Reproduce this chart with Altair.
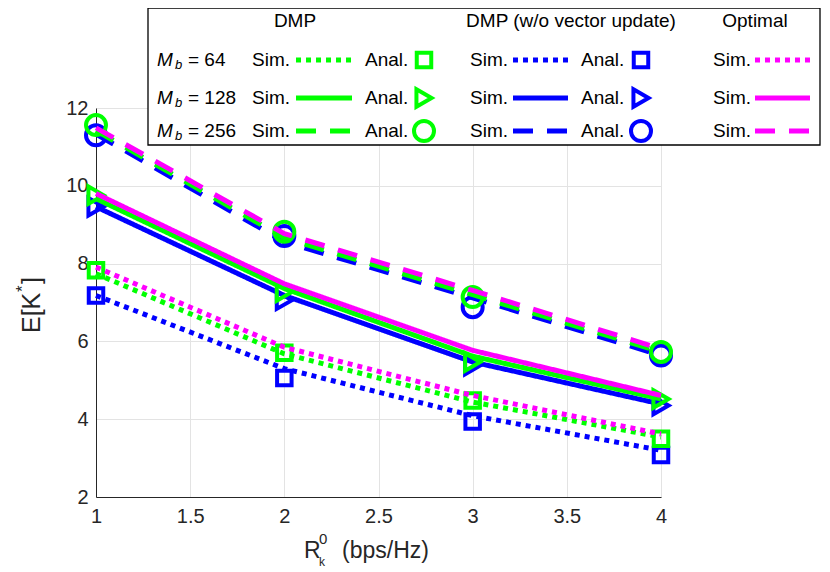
import altair as alt
import pandas as pd

# ---------------- data ----------------
x_vals = [1, 2, 3, 4]
mb_levels = ["64", "128", "256"]

dmp_sim_64 = [7.74, 5.68, 4.44, 3.54]
dmp_sim_128 = [9.67, 7.36, 5.62, 4.52]
dmp_sim_256 = [11.42, 8.66, 7.20, 5.73]
dmp_anal_64 = [7.83, 5.71, 4.48, 3.50]
dmp_anal_128 = [9.76, 7.27, 5.47, 4.52]
dmp_anal_256 = [11.56, 8.82, 7.14, 5.73]

wo_sim_64 = [7.18, 5.30, 4.09, 3.20]
wo_sim_128 = [9.46, 7.18, 5.47, 4.39]
wo_sim_256 = [11.33, 8.56, 7.12, 5.64]
wo_anal_64 = [7.18, 5.06, 3.94, 3.08]
wo_anal_128 = [9.46, 7.06, 5.38, 4.35]
wo_anal_256 = [11.30, 8.71, 6.88, 5.64]

opt_sim_64 = [7.91, 5.85, 4.61, 3.62]
opt_sim_128 = [9.80, 7.48, 5.77, 4.61]
opt_sim_256 = [11.49, 8.77, 7.31, 5.81]

x_ticks = [1, 1.5, 2, 2.5, 3, 3.5, 4]
y_ticks = [2, 4, 6, 8, 10, 12]

header_texts = ["DMP", "DMP (w/o vector update)", "Optimal"]
row_values = ["= 64", "= 128", "= 256"]

COL = {"wo": "#0000ff", "dmp": "#00ff00", "opt": "#ff00ff"}
FONT = "Liberation Sans"
TXT = "#262626"

sim_sets = {
    "wo": [wo_sim_64, wo_sim_128, wo_sim_256],
    "dmp": [dmp_sim_64, dmp_sim_128, dmp_sim_256],
    "opt": [opt_sim_64, opt_sim_128, opt_sim_256],
}
anal_sets = {
    "wo": [wo_anal_64, wo_anal_128, wo_anal_256],
    "dmp": [dmp_anal_64, dmp_anal_128, dmp_anal_256],
}

sim_rows, anal_rows = [], []
for m, series in sim_sets.items():
    for mb, ys in zip(mb_levels, series):
        for xv, yv in zip(x_vals, ys):
            sim_rows.append({"x": xv, "y": yv, "method": m, "Mb": mb})
for m, series in anal_sets.items():
    for mb, ys in zip(mb_levels, series):
        for xv, yv in zip(x_vals, ys):
            anal_rows.append({"x": xv, "y": yv, "method": m, "Mb": mb})
sim_df = pd.DataFrame(sim_rows)
anal_df = pd.DataFrame(anal_rows)

xs = alt.Scale(domain=[1, 4], nice=False, zero=False)
ys_ = alt.Scale(domain=[2, 12], nice=False, zero=False)
x_axis = alt.Axis(values=x_ticks, title=None, grid=True, ticks=False, labelPadding=9,
                  labelFontSize=20, labelFont=FONT, labelColor=TXT, domainColor=TXT,
                  gridColor="#e3e3e3", labelFlush=False, format="~g")
y_axis = alt.Axis(values=y_ticks, title=None, grid=True, ticks=False, labelPadding=8,
                  labelFontSize=20, labelFont=FONT, labelColor=TXT, domainColor=TXT,
                  gridColor="#e3e3e3", labelFlush=False)
X = alt.X("x:Q", scale=xs, axis=x_axis)
Y = alt.Y("y:Q", scale=ys_, axis=y_axis)

dash_scale = alt.Scale(domain=mb_levels, range=[[5, 5], [1, 0], [20, 14]])
shape_scale = alt.Scale(domain=mb_levels, range=["square", "triangle-right", "circle"])
size_scale = alt.Scale(domain=mb_levels, range=[210, 400, 240])


def line_layer(m):
    return alt.Chart(sim_df).transform_filter(alt.datum.method == m).mark_line(
        strokeWidth=5, strokeCap="butt", clip=False
    ).encode(
        x=X, y=Y, color=alt.value(COL[m]),
        strokeDash=alt.StrokeDash("Mb:N", scale=dash_scale, legend=None),
    )


def marker_layer(m):
    return alt.Chart(anal_df).transform_filter(alt.datum.method == m).mark_point(
        filled=False, strokeWidth=4, opacity=1, clip=False
    ).encode(
        x=X, y=Y, color=alt.value(COL[m]),
        shape=alt.Shape("Mb:N", scale=shape_scale, legend=None),
        size=alt.Size("Mb:O", scale=size_scale, legend=None),
    )


# ---------------- legend (plot-pixel coordinates) ----------------
row_y = [-48, -10, 23]
col_sim_x = {"dmp": 156, "wo": 374, "opt": 617}
col_line = {"dmp": (200, 256), "wo": (417, 472), "opt": (659, 714)}
col_anal_x = {"dmp": 269, "wo": 485}
col_mark_x = {"dmp": 328, "wo": 545}

leg_lines, leg_marks, leg_txt = [], [], []
for m in ["dmp", "wo", "opt"]:
    for mb, ry in zip(mb_levels, row_y):
        leg_lines.append({"x0": col_line[m][0], "x1": col_line[m][1], "y": ry, "c": COL[m], "Mb": mb})
        leg_txt.append({"px": col_sim_x[m], "py": ry, "t": "Sim."})
        if m in col_anal_x:
            leg_txt.append({"px": col_anal_x[m], "py": ry, "t": "Anal."})
            leg_marks.append({"px": col_mark_x[m], "py": ry, "c": COL[m], "Mb": mb})
for rv, ry in zip(row_values, row_y):
    leg_txt.append({"px": 92, "py": ry, "t": rv})

leg_lines_df = pd.DataFrame(leg_lines)
leg_marks_df = pd.DataFrame(leg_marks)
leg_txt_df = pd.DataFrame(leg_txt)
hdr_df = pd.DataFrame({"px": [199, 475, 659], "py": [-87, -87, -87], "t": header_texts})
m_df = pd.DataFrame({"px": [61, 61, 61], "py": row_y})

one = pd.DataFrame({"a": [0]})
PX = alt.X("px:Q", scale=None, axis=None)
PY = alt.Y("py:Q", scale=None, axis=None)

leg_box = alt.Chart(one).mark_rect(fill="white", stroke="black", strokeWidth=1.3, clip=False).encode(
    x=alt.value(52), x2=alt.value(724), y=alt.value(-100), y2=alt.value(37)
)
leg_line_layer = alt.Chart(leg_lines_df).mark_rule(strokeWidth=5, strokeCap="butt", clip=False).encode(
    x=alt.X("x0:Q", scale=None, axis=None), x2="x1:Q", y=alt.Y("y:Q", scale=None, axis=None),
    color=alt.Color("c:N", scale=None, legend=None),
    strokeDash=alt.StrokeDash("Mb:N", scale=dash_scale, legend=None),
)
leg_mark_layer = alt.Chart(leg_marks_df).mark_point(filled=False, strokeWidth=4, opacity=1, clip=False).encode(
    x=PX, y=PY, color=alt.Color("c:N", scale=None, legend=None),
    shape=alt.Shape("Mb:N", scale=shape_scale, legend=None),
    size=alt.Size("Mb:O", scale=size_scale, legend=None),
)
leg_text_layer = alt.Chart(leg_txt_df).mark_text(
    align="left", baseline="middle", font=FONT, fontSize=19, color="black", clip=False
).encode(x=PX, y=PY, text="t:N")
hdr_layer = alt.Chart(hdr_df).mark_text(
    align="center", baseline="middle", font=FONT, fontSize=19, color="black", clip=False
).encode(x=PX, y=PY, text="t:N")
m_layer = alt.Chart(m_df).mark_text(
    align="left", baseline="middle", font=FONT, fontSize=19, fontStyle="italic", color="black", clip=False
).encode(x=PX, y=PY, text=alt.value("M"))
b_layer = alt.Chart(m_df).mark_text(
    align="left", baseline="middle", font=FONT, fontSize=13, fontStyle="italic", color="black",
    clip=False, dx=18, dy=5
).encode(x=PX, y=PY, text=alt.value("b"))

# ---------------- axis titles ----------------
def t(txt, x, y, size, angle=0, align="left"):
    return alt.Chart(one).mark_text(
        align=align, baseline="middle", font=FONT, fontSize=size, color=TXT, angle=angle, clip=False
    ).encode(x=alt.value(x), y=alt.value(y), text=alt.value(txt))

titles = [
    t("R", 208, 443, 23),
    t("k", 223, 454, 12),
    t("0", 223, 431, 15),
    t("(bps/Hz)", 246, 443, 23),
    t("E[K", -64, 225, 25, angle=270),
    t("*", -73, 184, 17, angle=270),
    t("]", -64, 176, 25, angle=270),
]

chart = alt.layer(
    line_layer("wo"), marker_layer("wo"),
    line_layer("dmp"), marker_layer("dmp"),
    line_layer("opt"),
    leg_box, leg_line_layer, leg_mark_layer, leg_text_layer, hdr_layer, m_layer, b_layer,
    *titles,
).properties(
    width=565, height=389,
    autosize=alt.AutoSizeParams(type="none"),
    padding={"left": 88, "top": 100, "right": 161, "bottom": 74},
    background="white",
).configure_view(stroke=None)

chart.save("out.html", embed_options={"renderer": "svg", "actions": False})
